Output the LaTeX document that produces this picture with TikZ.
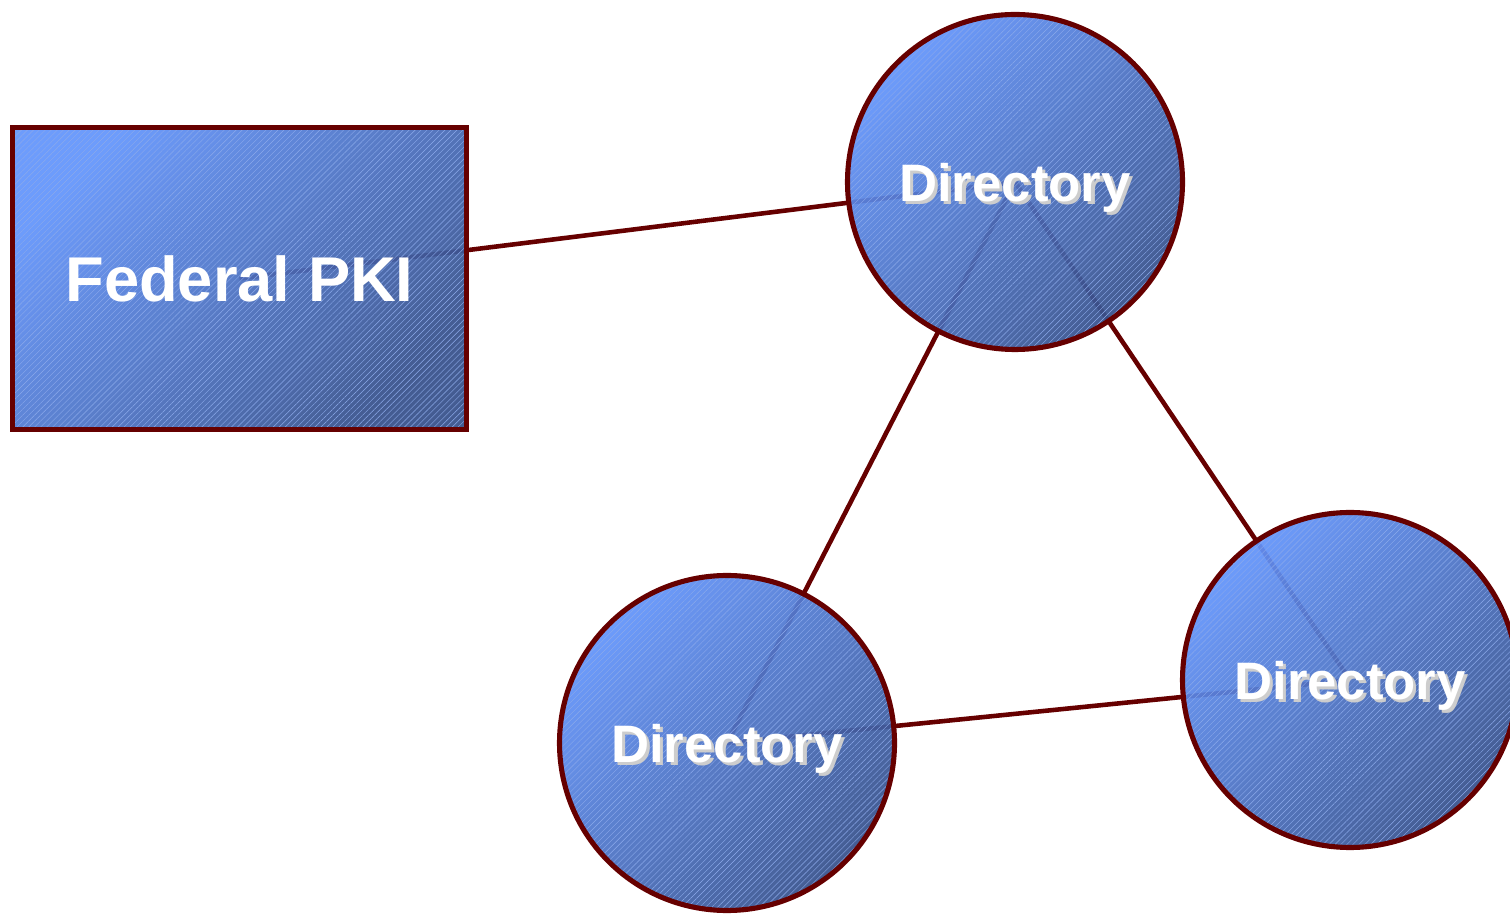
\documentclass[tikz,border=0pt]{standalone}
\usepackage{fontspec}
\setmainfont{Liberation Sans}
\usetikzlibrary{positioning,patterns.meta,backgrounds}
\definecolor{linkred}{RGB}{102,0,0}
\definecolor{boxlight}{RGB}{98,148,252}
\definecolor{boxdark}{RGB}{54,80,138}
\definecolor{hatchblue}{RGB}{140,170,235}
\definecolor{shadowgray}{RGB}{205,205,205}
\newcommand{\shadowed}[1]{\makebox[0pt][l]{\hspace{0.9pt}\raisebox{-0.9pt}{\color{shadowgray}#1}}#1}

\begin{document}
\begin{tikzpicture}[
    every node/.style={text=white},
    blueshape/.style={draw=linkred, line width=1.45pt,
      preaction={top color=boxlight, bottom color=boxdark, shading angle=45,
        fill opacity=0.93},
      preaction={pattern={Lines[angle=45,distance=1.2pt,line width=0.12pt]},
        pattern color=hatchblue}},
    dirnode/.style={blueshape, circle, minimum size=3.35cm, inner sep=0pt,
      font=\bfseries\fontsize{15}{18}\selectfont, text depth=-0.12cm},
    link/.style={draw=linkred, line width=1.3pt},
  ]
  \useasboundingbox (0,0) rectangle (15.1,9.15);

  \node[blueshape, rectangle, minimum width=4.54cm, minimum height=3.02cm,
    font=\bfseries\fontsize{18}{21}\selectfont, text depth=-0.08cm] (fpki) at (2.395,6.365) {Federal PKI};
  \node[dirnode] (dirtop) at (10.15,7.33) {\shadowed{Directory}};
  \node[dirnode] (dirleft) at (7.27,1.72) {\shadowed{Directory}};
  \node[dirnode] (dirright) at (13.50,2.35) {\shadowed{Directory}};

  \begin{scope}[on background layer]
    \draw[link] (fpki.center) -- (dirtop.center);
    \draw[link] (dirtop.center) -- (dirleft.center);
    \draw[link] (dirtop.center) -- (dirright.center);
    \draw[link] (dirleft.center) -- (dirright.center);
  \end{scope}
\end{tikzpicture}
\end{document}
